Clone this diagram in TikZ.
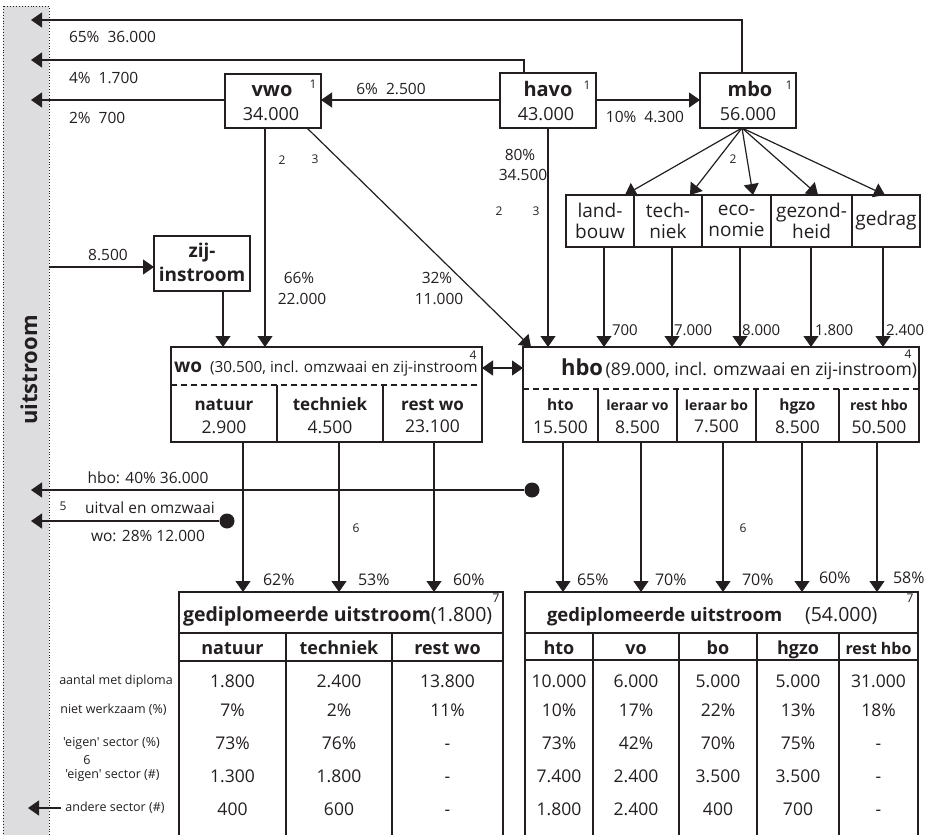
\documentclass[tikz,border=0pt]{standalone}
\usepackage{fontspec}
\setmainfont[Ligatures=TeXOff]{Open Sans}
\usetikzlibrary{arrows.meta}
\definecolor{ink}{HTML}{231F20}
\definecolor{barfill}{HTML}{DDDDDF}
\newcommand\fsz[1]{\fontsize{#1}{#1}\selectfont}
\newcommand\fszb[2]{\fontsize{#1}{#2}\selectfont}
\begin{document}
\begin{tikzpicture}[x=1pt,y=-1pt,
  bx/.style={draw=ink, line width=1.4pt, fill=white, inner sep=0pt, outer sep=0pt},
  ln/.style={draw=ink, line width=1.2pt},
  ar/.style={ln, -{Triangle[length=11pt,width=15pt]}},
  dar/.style={ln, {Triangle[length=11pt,width=15pt]}-{Triangle[length=11pt,width=15pt]}},
  tx/.style={inner sep=0pt, outer sep=0pt, text=ink},
  lab/.style={tx, font=\fsz{15.5}},
  pct/.style={tx, font=\fsz{16}, anchor=west},
  sup/.style={tx, font=\fsz{12}},
  ttl/.style={tx, font=\bfseries\fsz{20}},
  num/.style={tx, font=\fsz{18}},
  sec/.style={bx, minimum height=52pt, font=\fszb{19}{21}, align=center, text=ink},
  tv/.style={tx, font=\fsz{17.5}, anchor=base},
  th/.style={tx, font=\bfseries\fsz{18}, anchor=base},
  rl/.style={tx, font=\fsz{12.5}},
  dot/.style={circle, fill=ink, minimum size=15pt, inner sep=0pt},
  frame/.style={draw=ink, line width=1.4pt},
]
\clip (0,0) rectangle (930,835);
\fill[white] (0,0) rectangle (930,835);
% uitstroom bar
\draw[ink, dotted, line width=0.9pt, fill=barfill] (3,6) rectangle (49,850);
\node[tx, rotate=90, font=\bfseries\fsz{22}] (uit) at (29,370) {uitstroom};

\coordinate (b1) at (31,20);
\coordinate (b2) at (31,60);
\coordinate (b3) at (31,100);
\coordinate (b4) at (31,490);
\coordinate (b5) at (31,521);
\coordinate (b6) at (28,808);
\coordinate (bz) at (49,267);

% top boxes
\node[bx, minimum width=96pt, minimum height=54pt] (vwo) at (273,101) {};
\node[bx, minimum width=96pt, minimum height=55pt] (havo) at (548,100.5) {};
\node[bx, minimum width=96pt, minimum height=55pt] (mbo) at (748,100.5) {};
\node[ttl] (vwoT) at (272,91) {vwo};
\node[num] (vwoN) at (271,114) {34.000};
\node[sup] (vwoS) at (313,84) {1};
\node[ttl] (havoT) at (548,88.5) {havo};
\node[num] (havoN) at (546,114.5) {43.000};
\node[sup] (havoS) at (587,85) {1};
\node[ttl] (mboT) at (750,88.5) {mbo};
\node[num] (mboN) at (748,114.5) {56.000};
\node[sup] (mboS) at (789,85) {1};

\node[lab, anchor=west] (l65) at (69,37) {65\%\ \ 36.000};
\node[lab, anchor=west] (l4) at (69,77.5) {4\%\ \ 1.700};
\node[lab, anchor=west] (l2) at (69,117.5) {2\%\ \ 700};
\node[lab] (l6) at (391,89) {6\%\ \ 2.500};
\node[lab] (l10) at (645,117) {10\%\ \ 4.300};

\draw[ar] ([xshift=-6pt]mbo.north) |- (b1);
\draw[ar] ([xshift=-24pt]havo.north) |- (b2);
\draw[ar] (vwo.west |- b3) -- (b3);
\draw[ar] (havo.west |- b3) -- (vwo.east |- b3);
\draw[ar] (havo.east |- b3) -- (mbo.west |- b3);

% zij-instroom
\node[bx, minimum width=96pt, minimum height=55pt] (zij) at (202,263.5) {};
\node[tx, font=\bfseries\fsz{19}, anchor=base] (zijA) at (202,257) {zij-};
\node[tx, font=\bfseries\fsz{19}, anchor=base] (zijB) at (202,281.5) {instroom};
\node[lab] (l85) at (108,255) {8.500};
\draw[ar] (bz) -- (bz -| zij.west);

% wo / hbo boxes
\node[bx, minimum width=311pt, minimum height=95pt] (wo) at (326.5,394.5) {};
\node[bx, minimum width=396pt, minimum height=95pt] (hbo) at (721,394.5) {};

\draw[ar] ([xshift=21pt]zij.south) -- ([xshift=21pt]zij.south |- wo.north);
\draw[ar] ([xshift=-8pt]vwo.south) -- ([xshift=-8pt]vwo.south |- wo.north);
\draw[ar] ([xshift=-14pt]vwo.south east) -- ([xshift=8pt]hbo.north west);
\draw[ar] (havo.south) -- (havo.south |- hbo.north);

\node[sup] (n2a) at (282,160) {2};
\node[sup] (n3a) at (315,159) {3};
\node[lab] (l66) at (299,278) {66\%};
\node[lab] (l22) at (302,299) {22.000};
\node[lab] (l32) at (437,278) {32\%};
\node[lab] (l11) at (439,299) {11.000};
\node[lab] (l80) at (520,155) {80\%};
\node[lab] (l345) at (523,175) {34.500};
\node[sup] (n2b) at (499,211) {2};
\node[sup] (n3b) at (536,211) {3};
\node[sup] (n2c) at (733,159) {2};

% sectors
\node[sec, minimum width=68pt] (s1) at (600,221) {land-\\bouw};
\node[sec, minimum width=68pt] (s2) at (668,221) {tech-\\niek};
\node[sec, minimum width=69pt] (s3) at (736.5,221) {eco-\\nomie};
\node[sec, minimum width=81pt] (s4) at (811.5,221) {gezond-\\heid};
\node[sec, minimum width=68pt] (s5) at (886,221) {gedrag};

\foreach \s/\dx in {s1/25, s2/22, s3/16.5, s4/6.5, s5/-1}
  \draw[ar] ([xshift=-6pt]mbo.south) -- ([xshift=\dx pt]\s.north);
\foreach \s/\dx in {s1/4, s2/4, s3/3.5, s4/-0.5, s5/-3}
  \draw[ar] ([xshift=\dx pt]\s.south) -- ([xshift=\dx pt]\s.south |- hbo.north);
\node[pct, font=\fsz{15}] (v1) at (612,330) {700};
\node[pct, font=\fsz{15}] (v2) at (674,330) {7.000};
\node[pct, font=\fsz{15}] (v3) at (742,330) {8.000};
\node[pct, font=\fsz{15}] (v4) at (815,330) {1.800};
\node[pct, font=\fsz{15}] (v5) at (886,330) {2.400};

% wo box contents
\node[tx, anchor=base west] (woH) at (174,372) {{\bfseries\fsz{19}wo}\hspace{8pt}{\fsz{15.3}(30.500, incl. omzwaai en zij-instroom}};
\node[sup] (n4a) at (473,355) {4};
\draw[ink, line width=1.2pt, dash pattern=on 6pt off 4pt] (171,385) -- (482,385);
\draw[frame] (277,385) -- (277,442) (383,385) -- (383,442);
\node[th, font=\bfseries\fsz{17}] (wo1) at (224,410) {natuur};
\node[th, font=\bfseries\fsz{17}] (wo2) at (330,410) {techniek};
\node[th, font=\bfseries\fsz{17}] (wo3) at (432.5,410) {rest wo};
\node[tv] (wo1n) at (224,433) {2.900};
\node[tv] (wo2n) at (330,433) {4.500};
\node[tv] (wo3n) at (432.5,432) {23.100};

% hbo box contents
\node[tx, anchor=base east] (hboH) at (917,375) {{\bfseries\fsz{22}hbo} {\fsz{17.5}(89.000, incl. omzwaai en zij-instroom)}};
\node[sup] (n4b) at (908,354) {4};
\draw[ink, line width=1.2pt, dash pattern=on 6pt off 4pt] (523,389) -- (919,389);
\draw[frame] (598,389) -- (598,442) (677,389) -- (677,442) (756,389) -- (756,442) (839,389) -- (839,442);
\node[th, font=\bfseries\fsz{15.5}] (h1) at (560.5,410) {hto};
\node[th, font=\bfseries\fsz{14}] (h2) at (637.5,410) {leraar vo};
\node[th, font=\bfseries\fsz{14}] (h3) at (716.5,410) {leraar bo};
\node[th, font=\bfseries\fsz{15.5}] (h4) at (797.5,410) {hgzo};
\node[th, font=\bfseries\fsz{14}] (h5) at (879,410) {rest hbo};
\node[tv] (h1n) at (560.5,433) {15.500};
\node[tv] (h2n) at (637.5,433) {8.500};
\node[tv] (h3n) at (716.5,432) {7.500};
\node[tv] (h4n) at (797.5,433) {8.500};
\node[tv] (h5n) at (879,433) {50.500};

\draw[dar] ([yshift=26.5pt]wo.east) -- ([yshift=26.5pt]hbo.west);

% bottom tables
\node[tx, minimum width=324pt, minimum height=260pt, anchor=north west] (lt) at (179,592) {};
\node[tx, minimum width=393pt, minimum height=260pt, anchor=north west] (rt) at (525,592) {};
\draw[frame] (lt.south west) |- (lt.north east) -- (lt.south east);
\draw[frame] (rt.south west) |- (rt.north east) -- (rt.south east);
\draw[frame] (179,633) -- (503,633) (179,661) -- (503,661) (286,633) -- (286,852) (392,633) -- (392,852);
\draw[frame] (525,633) -- (918,633) (525,660) -- (918,660) (593,633) -- (593,852) (679,633) -- (679,852) (757,633) -- (757,852) (839,633) -- (839,852);

\foreach \dx in {-83.5,12.5,107.5}
  \draw[ar] ([xshift=\dx pt]wo.south) -- ([xshift=\dx pt]wo.south |- lt.north);
\foreach \dx in {-158,-80,2,81,156}
  \draw[ar] ([xshift=\dx pt]hbo.south) -- ([xshift=\dx pt]hbo.south |- rt.north);

\node[pct] (p1) at (263,580) {62\%};
\node[pct] (p2) at (358,580) {53\%};
\node[pct] (p3) at (453,580) {60\%};
\node[pct] (p4) at (577,580) {65\%};
\node[pct] (p5) at (655,580) {70\%};
\node[pct] (p6) at (742,580) {70\%};
\node[pct] (p7) at (819,578) {60\%};
\node[pct] (p8) at (893,578) {58\%};

% uitval
\node[dot] (dh) at (532,490) {};
\node[dot] (dw) at (227,521) {};
\draw[ar] (dh) -- (b4);
\draw[ar] (dw) -- (b5);
\node[lab] (u1) at (148,478) {hbo: 40\% 36.000};
\node[sup] (n5) at (63,506) {5};
\node[lab] (u2) at (150,508) {uitval en omzwaai};
\node[lab] (u3) at (148,536) {wo: 28\% 12.000};
\node[sup] (n6a) at (356,528) {6};
\node[sup] (n6b) at (743,528) {6};

% table headers
\node[tx, anchor=base west] (lth) at (183,621) {{\bfseries\fsz{19.5}gediplomeerde uitstroom}{\fsz{19.5}(1.800)}};
\node[sup] (n7a) at (496,598) {7};
\node[tx, anchor=base west, font=\bfseries\fsz{18.5}] (rth) at (547,621) {gediplomeerde uitstroom};
\node[tx, anchor=base west, font=\fsz{19.5}] (rtn) at (805,621) {(54.000)};
\node[sup] (n7b) at (910,598) {7};

\node[th] (c1) at (232.5,654) {natuur};
\node[th] (c2) at (339,654) {techniek};
\node[th] (c3) at (447.5,654) {rest wo};
\node[th] (c4) at (559,654) {hto};
\node[th] (c5) at (636,654) {vo};
\node[th] (c6) at (718,654) {bo};
\node[th] (c7) at (798,654) {hgzo};
\node[th, font=\bfseries\fsz{16}] (c8) at (878.5,654) {rest hbo};

\foreach \x/\a/\b/\c/\d/\e in {
  232.5/1.800/7\%/73\%/1.300/400,
  339/2.400/2\%/76\%/1.800/600,
  447.5/13.800/11\%/-/-/-,
  559/10.000/10\%/73\%/7.400/1.800,
  636/6.000/17\%/42\%/2.400/2.400,
  718/5.000/22\%/70\%/3.500/400,
  798/5.000/13\%/75\%/3.500/700,
  878.5/31.000/18\%/-/-/-}{
  \node[tv] at (\x,687) {\a};
  \node[tv] at (\x,716) {\b};
  \node[tv] at (\x,749) {\c};
  \node[tv] at (\x,782) {\d};
  \node[tv] at (\x,815) {\e};
}

% row labels
\node[rl] (r1) at (116,681) {aantal met diploma};
\node[rl] (r2) at (113.5,710) {niet werkzaam (\%)};
\node[rl] (r3) at (111.5,743) {'eigen' sector (\%)};
\node[rl] (r6) at (87,760) {6};
\node[rl] (r4) at (112.5,775) {'eigen' sector (\#)};
\node[rl] (r5) at (115,808) {andere sector (\#)};
\draw[ar] ([xshift=-4pt]r5.west) -- (b6);
\end{tikzpicture}
\end{document}
